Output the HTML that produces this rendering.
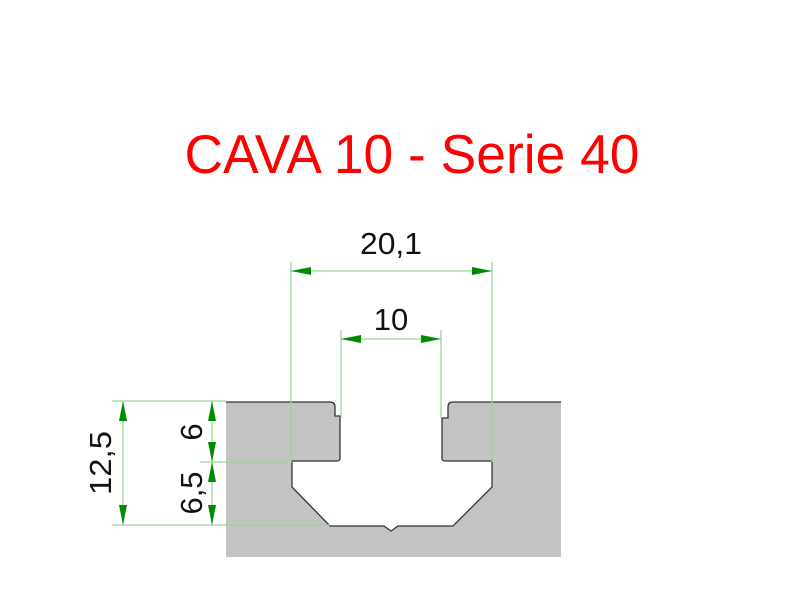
<!DOCTYPE html>
<html><head><style>body{margin:0;background:#fff}svg{display:block}</style></head><body>
<svg width="800" height="611" viewBox="0 0 800 611" xmlns="http://www.w3.org/2000/svg" font-family="Liberation Sans, DejaVu Sans, sans-serif">
<defs>
<marker id="a" viewBox="0 0 20 8" refX="20" refY="4" markerWidth="20" markerHeight="8" markerUnits="userSpaceOnUse" orient="auto-start-reverse"><path d="M0,0 L20,4 L0,8z" fill="#008a00"/></marker>
</defs>
<text x="412" y="173" font-size="55" fill="#ff0000" text-anchor="middle" textLength="455" lengthAdjust="spacingAndGlyphs">CAVA 10 - Serie 40</text>
<path d="M226,402 H330 Q335,402 335,407 V416 H340 V458 Q340,461 337,461 H292 V487 L330,526 H384 L391,531 L398,526 H453 L492,487 V461 H445 Q442,461 442,458 V418 H448 V407 Q448,402 453,402 H561 V557 H226 Z" fill="#c3c3c3"/>
<path d="M226,402 H330 Q335,402 335,407 V416 H340 V458 Q340,461 337,461 H292 V487 L330,526 H384 L391,531 L398,526 H453 L492,487 V461 H445 Q442,461 442,458 V418 H448 V407 Q448,402 453,402 H561" fill="none" stroke="#333" stroke-width="1.3"/>
<g stroke="#9ad49a" stroke-width="1.3" fill="none">
<line x1="291" y1="262" x2="291" y2="462"/>
<line x1="492" y1="262" x2="492" y2="462"/>
<line x1="341" y1="330" x2="341" y2="418"/>
<line x1="441" y1="330" x2="441" y2="418"/>
<line x1="112" y1="401" x2="226" y2="401"/>
<line x1="200" y1="462" x2="292" y2="462"/>
<line x1="112" y1="525" x2="330" y2="525"/>
</g>
<g stroke="#9ad49a" stroke-width="1.3" marker-start="url(#a)" marker-end="url(#a)">
<line x1="291" y1="271" x2="492" y2="271"/>
<line x1="341" y1="339" x2="441" y2="339"/>
<line x1="123" y1="401" x2="123" y2="525"/>
<line x1="212" y1="401" x2="212" y2="462"/>
<line x1="212" y1="462" x2="212" y2="525"/>
</g>
<g font-size="31" fill="#111" text-anchor="middle">
<text x="391" y="254" textLength="62" lengthAdjust="spacingAndGlyphs">20,1</text>
<text x="391" y="330">10</text>
<text transform="translate(111,463) rotate(-90)" textLength="64" lengthAdjust="spacingAndGlyphs">12,5</text>
<text transform="translate(202,432) rotate(-90)">6</text>
<text transform="translate(202,493) rotate(-90)">6,5</text>
</g>
</svg>
</body></html>
